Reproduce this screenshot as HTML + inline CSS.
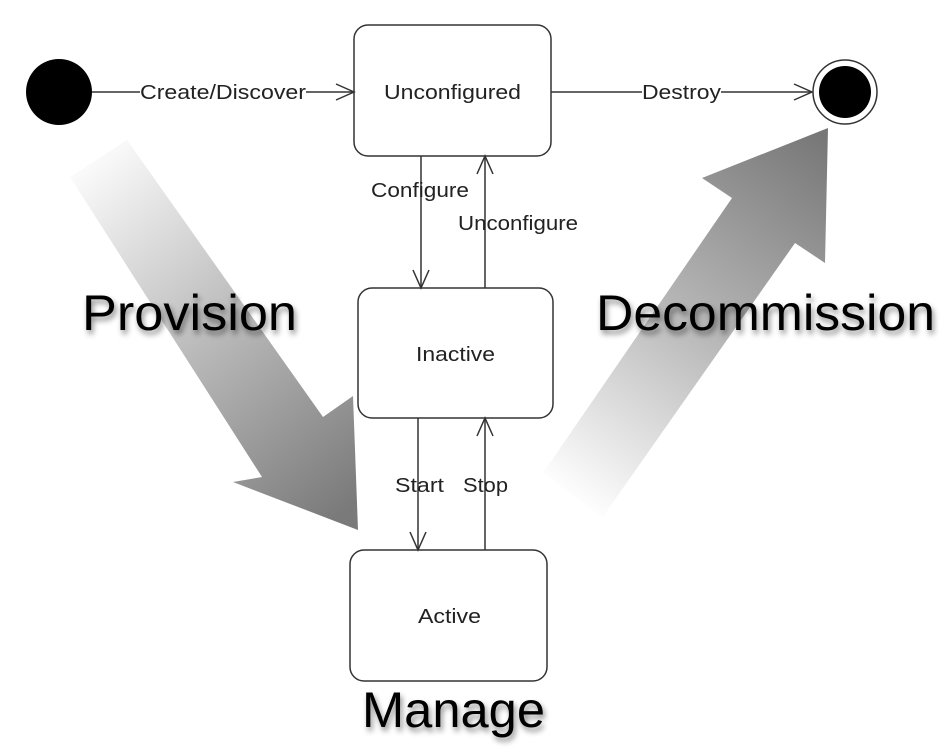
<!DOCTYPE html>
<html><head><style>
html,body{margin:0;padding:0;background:#fff;}
svg{display:block;}
text{font-family:"Liberation Sans",sans-serif;}
</style></head><body>
<svg width="945" height="752" viewBox="0 0 945 752" xmlns="http://www.w3.org/2000/svg">
<defs>
<linearGradient id="g1" x1="70" y1="160" x2="358" y2="500" gradientUnits="userSpaceOnUse">
<stop offset="0" stop-color="#ffffff"/><stop offset="0.5" stop-color="#bbbbbb"/><stop offset="1" stop-color="#7a7a7a"/>
</linearGradient>
<linearGradient id="g2" x1="570" y1="500" x2="828" y2="140" gradientUnits="userSpaceOnUse">
<stop offset="0" stop-color="#ffffff"/><stop offset="0.5" stop-color="#b5b5b5"/><stop offset="1" stop-color="#777"/>
</linearGradient>
<filter id="sh" x="-10%" y="-20%" width="130%" height="160%"><feDropShadow dx="2" dy="4" stdDeviation="3" flood-color="#000" flood-opacity="0.45"/></filter>
</defs>
<polygon points="127,140 323,417 353,396 358,530 233,482 262,477 70,177" fill="url(#g1)"/>
<polygon points="543,473 732,198 702,178 828,128 825,263 795,243 602,518" fill="url(#g2)"/>
<g fill="none" stroke="#333" stroke-width="1.5">
<rect x="354" y="25" width="197" height="131" rx="14" fill="#fff"/>
<rect x="358" y="288" width="195" height="130" rx="14" fill="#fff"/>
<rect x="350" y="550" width="197" height="131" rx="14" fill="#fff"/>
<line x1="92" y1="92" x2="354" y2="92"/><polyline points="336,84 354,92 336,100"/>
<line x1="551" y1="92" x2="812" y2="92"/><polyline points="794,84 812,92 794,100"/>
<line x1="421" y1="156" x2="421" y2="288"/><polyline points="413,270 421,288 429,270"/>
<line x1="485" y1="288" x2="485" y2="156"/><polyline points="477,174 485,156 493,174"/>
<line x1="418" y1="418" x2="418" y2="550"/><polyline points="410,532 418,550 426,532"/>
<line x1="485" y1="550" x2="485" y2="418"/><polyline points="477,436 485,418 493,436"/>
<circle cx="845" cy="92" r="32" fill="#fff"/>
</g>
<circle cx="59" cy="92" r="33" fill="#000"/>
<circle cx="845" cy="92" r="26" fill="#000"/>
<g font-size="20" fill="#222" lengthAdjust="spacingAndGlyphs">
<rect x="140" y="82" width="166" height="20" fill="#fff"/>
<text x="140" y="99" textLength="166" lengthAdjust="spacingAndGlyphs">Create/Discover</text>
<rect x="642" y="82" width="79" height="20" fill="#fff"/>
<text x="642" y="99" textLength="79" lengthAdjust="spacingAndGlyphs">Destroy</text>
<text x="384" y="99" textLength="137" lengthAdjust="spacingAndGlyphs">Unconfigured</text>
<text x="416" y="361" textLength="79" lengthAdjust="spacingAndGlyphs">Inactive</text>
<text x="418" y="623" textLength="63" lengthAdjust="spacingAndGlyphs">Active</text>
<text x="371" y="197" textLength="98" lengthAdjust="spacingAndGlyphs">Configure</text>
<text x="458" y="230" textLength="120" lengthAdjust="spacingAndGlyphs">Unconfigure</text>
<text x="395" y="492" textLength="49" lengthAdjust="spacingAndGlyphs">Start</text>
<text x="463" y="492" textLength="45" lengthAdjust="spacingAndGlyphs">Stop</text>
</g>
<g font-size="50" fill="#000" filter="url(#sh)">
<text x="82" y="330" textLength="215" lengthAdjust="spacingAndGlyphs">Provision</text>
<text x="596" y="330" textLength="339" lengthAdjust="spacingAndGlyphs">Decommission</text>
<text x="362" y="727" textLength="183" lengthAdjust="spacingAndGlyphs">Manage</text>
</g>
</svg>
</body></html>
